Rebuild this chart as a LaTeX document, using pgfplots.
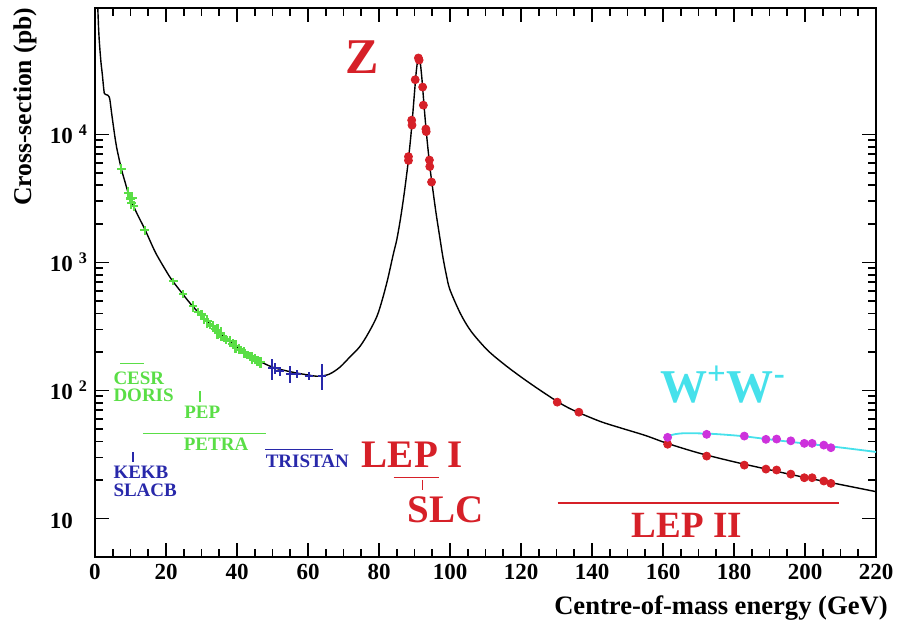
\documentclass[border=0pt]{standalone}
\usepackage{fontspec}
\setmainfont{Liberation Serif}
\usepackage{pgfplots}
\usepackage{pgfplotstable}
\pgfplotsset{compat=1.18}

\definecolor{zred}{RGB}{214,32,40}
\definecolor{pgreen}{RGB}{90,222,70}
\definecolor{pblue}{RGB}{40,40,170}
\definecolor{wcyan}{RGB}{70,225,235}
\definecolor{wmag}{RGB}{205,50,220}

% hadronic cross-section curve (pb)
% below the shoulder (drawn straight)
\pgfplotstableread{
E sig
0.6 130000
0.8 95000
1.0 68000
1.2 54000
1.4 45300
1.7 36000
2.06 29500
2.4 23500
2.6 21000
2.8 20600
}\curvelow

% above the shoulder (drawn smooth)
\pgfplotstableread{
E sig
2.8 20600
3.2 20400
3.6 20200
3.9 19800
4.2 18600
4.7 14500
5.2 11500
5.6 9600
6.1 7900
6.8 6400
7.5 5270
8.4 4300
9.4 3460
10.5 2900
12.0 2350
14.1 1800
17.0 1200
20.0 860
21.6 733
24.0 600
26.8 479
30.0 383
33.0 317
36.2 263
40.0 217
43.0 190
45.6 173
50.0 152
55.0 140
60.0 132
63.0 129
66.0 134
69.0 152
72.0 185
74.6 220
77.0 280
79.4 378
81.0 520
82.5 750
84.0 1150
85.0 1500
86.0 2150
87.0 3300
88.0 5400
88.5 7200
89.0 9900
89.5 14300
90.0 21200
90.5 31000
91.0 39800
91.2 41000
91.5 38800
92.0 29000
92.5 19600
93.0 13200
93.5 9300
94.0 6800
94.5 5100
95.0 4000
96.0 2500
97.0 1650
98.0 1100
99.0 790
100.0 610
103.0 395
106.0 288
110.5 207
115.0 162
119.9 128
125.0 102
130.2 82
133.0 74
136.3 67
142.5 57
148.0 51
155.0 44.5
161.2 38.6
170.0 32.5
180.0 27.7
190.0 24
198.9 21.2
210.0 18.4
220.0 16.2
}\curve

\pgfplotstableread{
E sig err
7.4 5400 500
9.4 3500 350
9.9 3150 300
10.2 2900 300
10.5 3200 350
11.0 2750 250
14.0 1780 150
22.0 712 50
24.8 565 40
27.6 455 45
29.0 410 30
30.0 392 35
30.8 362 30
31.6 350 40
32.4 328 25
33.2 318 30
33.8 300 25
34.5 292 40
35.0 280 20
35.5 278 35
36.3 262 25
37.0 250 20
38.0 242 25
38.8 230 20
39.6 222 25
40.5 212 20
41.2 206 15
42.0 198 20
42.8 190 15
43.6 184 15
44.2 180 20
45.0 176 15
45.8 171 15
46.6 166 15
}\lowdata

\pgfplotstableread{
E sig err
49.8 149 28
50.8 150 15
52.2 141 12
55.0 134 20
56.9 135 10
60.2 130 10
63.9 130 30
}\tristan

\pgfplotstableread{
E sig
88.3 6700
88.3 6250
89.2 12900
89.3 11800
90.2 26700
91.1 39500
91.3 38000
92.3 23400
92.5 16900
93.2 11000
93.3 10500
94.2 6300
94.3 5600
94.8 4240
130.2 81
136.3 67.6
161.3 38
172.3 30.7
182.9 26.1
189.0 24.3
192.0 23.9
196.0 22.2
199.8 20.8
202.0 20.8
205.3 19.6
207.3 18.8
}\leppts

\pgfplotstableread{
E sig
161.3 43
172.3 45.4
182.9 44
189.0 41.5
192.0 41.7
196.0 40.4
199.8 38.6
202.0 38.6
205.3 37.4
207.3 35.7
}\wwpts

\pgfplotstableread{
E sig
161.2 43.6
163.0 45.3
166.0 46.3
172.5 46.0
178.0 45.0
182.9 43.8
189.5 41.6
198.9 38.8
208.3 36.3
220.0 33.1
}\wwline

\begin{document}
\begin{tikzpicture}
\begin{axis}[
    scale only axis,
    width=390.5pt, height=274.5pt,
    ymode=log,
    xmin=0, xmax=220, ymin=5, ymax=97000,
    xtick={0,20,...,220},
    minor x tick num=3,
    ytick={10,100,1000,10000},
    yticklabels={{10\phantom{\hspace{3pt}\textsuperscript{2}}},{10\hspace{3pt}\textsuperscript{2}},{10\hspace{3pt}\textsuperscript{3}},{10\hspace{3pt}\textsuperscript{4}}},
    tick pos=both,
    tick align=inside,
    major tick length=7pt,
    minor tick length=4pt,
    every tick/.style={black, line width=0.8pt},
    axis line style={line width=1pt},
    /pgf/number format/assume math mode=true,
    tick label style={font=\fontsize{11.5}{12}\selectfont\bfseries},
    label style={font=\fontsize{12.8}{14}\selectfont\bfseries},
    xlabel={Centre-of-mass energy (GeV)},
    ylabel={Cross-section (pb)},
    xlabel style={at={(axis description cs:0.8015,-0.0929)}, anchor=center, font=\fontsize{13.3}{14}\selectfont\bfseries},
    ylabel style={at={(axis description cs:-0.0896,0.82)}, anchor=center},
]
\addplot[black, line width=0.7pt] table[x=E, y=sig] {\curvelow};
\addplot[black, line width=0.7pt, smooth, tension=0.5] table[x=E, y=sig] {\curve};
\addplot[wcyan, line width=0.9pt, smooth] table[x=E, y=sig] {\wwline};

\addplot[pgreen, only marks, mark=-, mark size=2.2pt, mark options={line width=1.1pt},
    error bars/.cd, y dir=both, y explicit, error mark=none,
    error bar style={line width=1.1pt}]
    table[x=E, y=sig, y error=err] {\lowdata};
\addplot[pblue, only marks, mark=-, mark size=2pt, mark options={line width=1.1pt},
    error bars/.cd, y dir=both, y explicit, error mark=none,
    error bar style={line width=1.1pt}]
    table[x=E, y=sig, y error=err] {\tristan};

\addplot[zred, only marks, mark=*, mark size=2pt, mark options={draw=zred, fill=zred}]
    table[x=E, y=sig] {\leppts};
\addplot[wmag, only marks, mark=*, mark size=2pt, mark options={draw=wmag, fill=wmag}]
    table[x=E, y=sig] {\wwpts};

% labels
\node[text=zred, font=\fontsize{25}{25}\selectfont\bfseries] at (axis cs:75.3,40000) {Z};
\node[text=wcyan, font=\fontsize{23.5}{24}\selectfont\bfseries] at (axis cs:176.9,112) {W\textsuperscript{+}W\textsuperscript{-}};

\node[text=zred, font=\fontsize{19.5}{20}\selectfont\bfseries] at (axis cs:89.4,31.3) {LEP I};
\draw[zred, line width=0.6pt] (axis cs:84.1,21.0) -- (axis cs:97.0,21.0);
\draw[zred, line width=0.6pt] (axis cs:92.2,20.0) -- (axis cs:92.2,16.7);
\node[text=zred, font=\fontsize{19.5}{20}\selectfont\bfseries] at (axis cs:98.7,11.6) {SLC};
\draw[zred, line width=0.6pt] (axis cs:130.3,13.2) -- (axis cs:209.6,13.2);
\node[text=zred, font=\fontsize{18.5}{19}\selectfont\bfseries] at (axis cs:166.7,8.87) {LEP II};

\begin{scope}[every node/.style={font=\fontsize{9.5}{10}\selectfont\bfseries, inner sep=0pt}]
\draw[pgreen, line width=0.6pt] (axis cs:7.05,161.5) -- (axis cs:13.8,161.5);
\node[text=pgreen, anchor=west] at (axis cs:5.1,125) {CESR};
\node[text=pgreen, anchor=west] at (axis cs:5.1,91.5) {DORIS};
\draw[pgreen, line width=0.6pt] (axis cs:29.6,99) -- (axis cs:29.6,81.3);
\node[text=pgreen] at (axis cs:30.2,67.9) {PEP};
\draw[pgreen, line width=0.6pt] (axis cs:13.5,46.4) -- (axis cs:48.2,46.4);
\node[text=pgreen] at (axis cs:34.1,38.1) {PETRA};
\draw[pblue, line width=0.6pt] (axis cs:48.0,34.8) -- (axis cs:67.1,34.8);
\node[text=pblue, anchor=west] at (axis cs:48.0,28.1) {TRISTAN};
\draw[pblue, line width=0.6pt] (axis cs:10.7,33.0) -- (axis cs:10.7,27.6);
\node[text=pblue, anchor=west] at (axis cs:5.1,22.9) {KEKB};
\node[text=pblue, anchor=west] at (axis cs:5.1,16.6) {SLACB};
\end{scope}
\end{axis}
\pgfresetboundingbox
\path[use as bounding box] ([shift={(-47.5pt,-35.5pt)}]current axis.south west) rectangle ([shift={(11pt,4pt)}]current axis.north east);
\end{tikzpicture}
\end{document}
